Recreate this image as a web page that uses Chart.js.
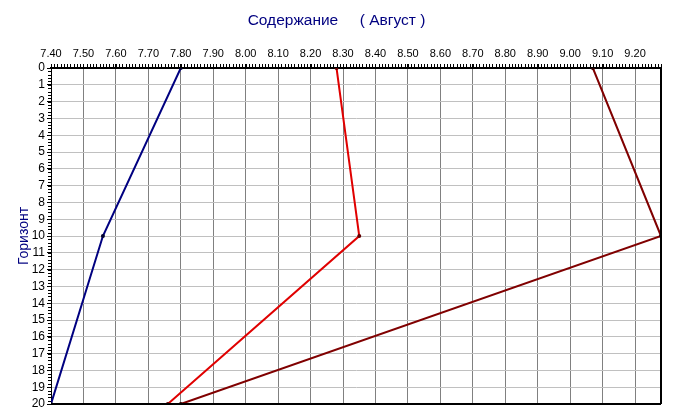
<!DOCTYPE html>
<html>
<head>
<meta charset="utf-8">
<script src="https://cdn.jsdelivr.net/npm/chart.js@4"></script>
<style>
html,body{margin:0;padding:0;background:#fff;}
#wrap{width:675px;height:419px;}
</style>
</head>
<body>
<div id="wrap"><canvas id="c" width="675" height="419"></canvas></div>
<script>
// ---- data ----
const horizons = [0, 10, 20];
const seriesBlue = [7.80, 7.56, 7.40];
const seriesRed = [8.28, 8.35, 7.76];
const seriesBrown = [9.07, 9.28, 7.80];
const xMin = 7.40, xMax = 9.28, xStep = 0.1, xMinorStep = 0.01;
const yMin = 0, yMax = 20, yStep = 1, yMinorStep = 0.2;
const titleText = 'Содержание     ( Август )';
const yTitleText = 'Горизонт';

function pts(vals){ return vals.map((v,i)=>({x:v, y:horizons[i]})); }

const FONT = '"Liberation Sans", Arial, sans-serif';

const frame = {
  id:'frame',
  afterDatasetsDraw(chart){
    const {ctx, chartArea:a, scales} = chart;
    ctx.save();
    ctx.strokeStyle = '#000';
    ctx.lineWidth = 2;
    ctx.beginPath();
    ctx.moveTo(a.left, a.bottom); ctx.lineTo(a.right, a.bottom);
    ctx.moveTo(a.right, a.top); ctx.lineTo(a.right, a.bottom);
    ctx.stroke();
    // minor ticks
    ctx.lineWidth = 1;
    ctx.beginPath();
    const xs = scales.x;
    const n = Math.round((xMax - xMin)/xMinorStep);
    for(let i=0;i<=n;i++){
      const px = Math.round(xs.getPixelForValue(xMin + i*xMinorStep)) + 0.5;
      ctx.moveTo(px, a.top - 4); ctx.lineTo(px, a.top);
    }
    const ys = scales.y;
    const m = Math.round((yMax - yMin)/yMinorStep);
    for(let i=0;i<=m;i++){
      const py = Math.round(ys.getPixelForValue(yMin + i*yMinorStep)) + 0.5;
      ctx.moveTo(a.left - 3, py); ctx.lineTo(a.left, py);
    }
    ctx.stroke();
    ctx.restore();
  }
};

new Chart(document.getElementById('c'), {
  type:'scatter',
  data:{
    datasets:[
      {data:pts(seriesBlue), showLine:true, borderColor:'#000080', borderWidth:2,
       pointRadius:2, pointBackgroundColor:'#000030', pointBorderColor:'#000030', pointBorderWidth:0},
      {data:pts(seriesRed), showLine:true, borderColor:'#e00000', borderWidth:2,
       pointRadius:2, pointBackgroundColor:'#600000', pointBorderColor:'#600000', pointBorderWidth:0},
      {data:pts(seriesBrown), showLine:true, borderColor:'#800000', borderWidth:2,
       pointRadius:2, pointBackgroundColor:'#300000', pointBorderColor:'#300000', pointBorderWidth:0}
    ]
  },
  options:{
    responsive:false,
    animation:false,
    devicePixelRatio:1,
    layout:{padding:{left:12, right:14, top:0, bottom:15}},
    plugins:{
      legend:{display:false},
      tooltip:{enabled:false},
      title:{display:true, text:titleText, color:'#000080',
        font:{family:FONT, size:15.5, weight:'normal'}, padding:{top:11, bottom:8.4}}
    },
    scales:{
      x:{type:'linear', position:'top', min:xMin, max:xMax,
        ticks:{stepSize:xStep, includeBounds:false, color:'#000', padding:3, maxRotation:0, autoSkip:false,
          font:{family:FONT, size:11}, callback:(v)=>Number(v).toFixed(2)},
        grid:{color:'#808080', lineWidth:1, tickLength:4, tickColor:'#000'},
        border:{color:'#000', width:2},
        afterFit(s){ s.height = 30; }
      },
      y:{type:'linear', reverse:true, min:yMin, max:yMax,
        ticks:{stepSize:yStep, color:'#000', padding:2, autoSkip:false,
          font:{family:FONT, size:12}},
        grid:{color:'#c0c0c0', lineWidth:1, tickLength:4, tickColor:'#000'},
        border:{color:'#000', width:1},
        title:{display:true, text:yTitleText, color:'#000080',
          font:{family:FONT, size:14}, padding:{top:3.6, bottom:0}},
        afterFit(s){ s.width = 39; }
      }
    }
  },
  plugins:[frame]
});
</script>
</body>
</html>
